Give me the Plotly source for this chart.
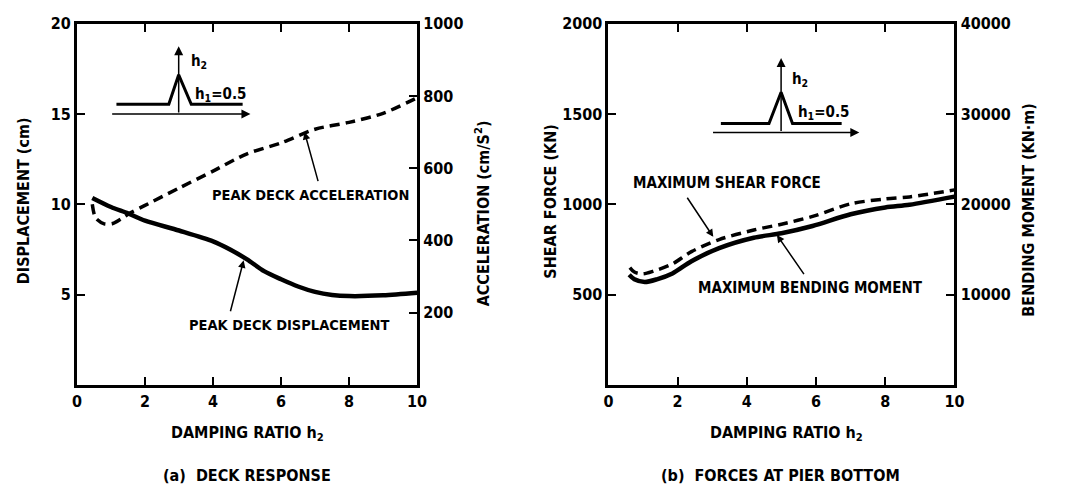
import plotly.graph_objects as go

W, H = 1068, 489

# ---------------- data ----------------
disp_x = [0.45, 1.0, 1.5, 2.0, 3.0, 4.0, 4.5, 5.0, 5.5, 6.0, 6.5, 7.0, 7.5, 8.0, 9.0, 10.0]
disp_y = [10.35, 9.85, 9.5, 9.1, 8.55, 7.95, 7.5, 6.95, 6.3, 5.85, 5.45, 5.15, 4.98, 4.92, 4.96, 5.1]

acc_x = [0.45, 0.55, 0.8, 1.05, 1.3, 1.6, 2.0, 3.0, 4.0, 5.0, 6.0, 7.0, 8.0, 9.0, 10.0]
acc_y = [500, 462, 446, 447, 460, 478, 497, 545, 592, 640, 670, 708, 727, 752, 795]

shear_x = [0.62, 0.75, 1.0, 1.3, 1.85, 2.4, 3.2, 4.2, 5.0, 5.9, 7.0, 8.0, 8.7, 10.0]
shear_y = [650, 625, 615, 630, 670, 738, 805, 858, 890, 933, 1003, 1030, 1041, 1080]

bend_x = [0.6, 0.75, 1.05, 1.4, 1.85, 2.4, 3.2, 4.2, 5.0, 5.9, 7.0, 8.0, 8.7, 10.0]
bend_y = [12200, 11700, 11400, 11700, 12350, 13700, 15150, 16300, 16800, 17600, 18900, 19650, 19950, 20850]

x_ticks = [0, 2, 4, 6, 8, 10]
disp_ticks = [5, 10, 15, 20]
acc_ticks = [200, 400, 600, 800, 1000]
shear_ticks = [500, 1000, 1500, 2000]
bend_ticks = [10000, 20000, 30000, 40000]

# inset schematic (damping profile): h1 level, h2 peak
inset_a_x = [1.16, 2.7, 2.99, 3.36, 4.87]
inset_a_y = [15.54, 15.54, 17.17, 15.54, 15.54]
inset_b_x = [3.25, 4.64, 4.99, 5.32, 6.74]
inset_b_y = [1447, 1447, 1621, 1447, 1447]

FONT = "DejaVu Sans Condensed, Liberation Sans Narrow, Arial Narrow, DejaVu Sans, sans-serif"
WEIGHT = "bold"

def fx(px):
    return px / W

def fy(py):
    return 1 - py / H

fig = go.Figure()

SOLID = dict(color="black", width=4.5, shape="spline", smoothing=0.8)
DASHED = dict(color="black", width=3.5, dash="10px,6px", shape="spline", smoothing=0.8)

# left panel
fig.add_trace(go.Scatter(x=disp_x, y=disp_y, mode="lines", xaxis="x", yaxis="y",
                         line=SOLID, showlegend=False))
fig.add_trace(go.Scatter(x=acc_x, y=acc_y, mode="lines", xaxis="x", yaxis="y2",
                         line=DASHED, showlegend=False))
fig.add_trace(go.Scatter(x=inset_a_x, y=inset_a_y, mode="lines", xaxis="x", yaxis="y",
                         line=dict(color="black", width=3), showlegend=False))

# right panel
fig.add_trace(go.Scatter(x=shear_x, y=shear_y, mode="lines", xaxis="x2", yaxis="y3",
                         line=DASHED, showlegend=False))
fig.add_trace(go.Scatter(x=bend_x, y=bend_y, mode="lines", xaxis="x2", yaxis="y4",
                         line=SOLID, showlegend=False))
fig.add_trace(go.Scatter(x=inset_b_x, y=inset_b_y, mode="lines", xaxis="x2", yaxis="y3",
                         line=dict(color="black", width=3), showlegend=False))

tickfont = dict(family=FONT, size=16, color="black", weight=WEIGHT)
axcommon = dict(showline=True, linecolor="black", linewidth=3, showgrid=False, zeroline=False,
                ticks="inside", ticklen=8, tickwidth=2, tickcolor="black", tickfont=tickfont,
                tickformat="d")

dom_a = [fx(73), fx(418)]
dom_b = [fx(612), fx(963)]
dom_y = [fy(383), fy(15)]

fig.update_layout(
    width=W, height=H,
    margin=dict(l=0, r=0, t=0, b=0),
    paper_bgcolor="white", plot_bgcolor="white",
    font=dict(family=FONT, color="black"),
    xaxis=dict(domain=dom_a, range=[0, 10], tickvals=x_ticks, mirror="ticks", anchor="y", **axcommon),
    yaxis=dict(domain=dom_y, range=[0, 20], tickvals=disp_ticks, anchor="x", **axcommon),
    yaxis2=dict(range=[0, 1000], tickvals=acc_ticks, overlaying="y", side="right", anchor="x", **axcommon),
    xaxis2=dict(domain=dom_b, range=[0, 10], tickvals=x_ticks, mirror="ticks", anchor="y3", **axcommon),
    yaxis3=dict(domain=dom_y, range=[0, 2000], tickvals=shear_ticks, anchor="x2", **axcommon),
    yaxis4=dict(range=[0, 40000], tickvals=bend_ticks, overlaying="y3", side="right", anchor="x2", **axcommon),
)

ann = []

def text(x, y, s, xref="paper", yref="paper", angle=0, size=14, xanchor="center"):
    ann.append(dict(x=x, y=y, xref=xref, yref=yref, text=s, showarrow=False, textangle=angle,
                    font=dict(family=FONT, size=size, color="black", weight=WEIGHT),
                    xanchor=xanchor, yanchor="middle"))

def arrow(x, y, ax, ay, xref, yref, width=1.5, head=2, size=1):
    ann.append(dict(x=x, y=y, ax=ax, ay=ay, xref=xref, yref=yref, axref=xref, ayref=yref,
                    text="", showarrow=True, arrowhead=head, arrowwidth=width, arrowsize=size,
                    arrowcolor="black"))

# axis titles
text(fx(19), fy(195), "DISPLACEMENT (cm)", angle=-90, size=16)
text(fx(484), fy(208), "ACCELERATION (cm/S<sup>2</sup>)", angle=-90, size=16)
text(fx(246), fy(432), "DAMPING RATIO h<sub>2</sub>", size=16)
text(fx(245), fy(475), "(a)  DECK RESPONSE", size=16)
text(fx(553), fy(196), "SHEAR FORCE (KN)", angle=-90, size=16)
text(fx(1038), fy(205), "BENDING MOMENT (KN·m)", angle=-90, size=16)
text(fx(793), fy(432), "DAMPING RATIO h<sub>2</sub>", size=16)
text(fx(787), fy(475), "(b)  FORCES AT PIER BOTTOM", size=16)

# curve labels
text(6.87, 10.5, "PEAK DECK ACCELERATION", xref="x", yref="y", size=14.5)
text(6.26, 3.3, "PEAK DECK DISPLACEMENT", xref="x", yref="y", size=14.5)
arrow(6.69, 14.0, 7.1, 11.2, "x", "y")
arrow(4.9, 6.9, 4.5, 4.0, "x", "y")

text(3.43, 1116, "MAXIMUM SHEAR FORCE", xref="x2", yref="y3", size=15)
text(5.85, 535, "MAXIMUM BENDING MOMENT", xref="x2", yref="y3", size=15)
arrow(3.03, 820, 2.25, 1045, "x2", "y3")
arrow(4.87, 830, 5.68, 605, "x2", "y3")

# inset axes (left)
arrow(5.1, 15.0, 0.99, 15.0, "x", "y", width=1.5, head=2, size=1.2)
arrow(2.99, 18.75, 2.99, 15.0, "x", "y", width=1.5, head=2, size=1.2)
text(3.3, 17.93, "h<sub>2</sub>", xref="x", yref="y", size=15, xanchor="left")
text(3.4, 16.1, "h<sub>1</sub>=0.5", xref="x", yref="y", size=15, xanchor="left")

# inset axes (right)
arrow(7.25, 1398, 2.98, 1398, "x2", "y3", width=1.5, head=2, size=1.2)
arrow(4.99, 1810, 4.99, 1398, "x2", "y3", width=1.5, head=2, size=1.2)
text(5.26, 1692, "h<sub>2</sub>", xref="x2", yref="y3", size=15, xanchor="left")
text(5.42, 1507, "h<sub>1</sub>=0.5", xref="x2", yref="y3", size=15, xanchor="left")

fig.update_layout(annotations=ann)

fig.write_html("out.html")
